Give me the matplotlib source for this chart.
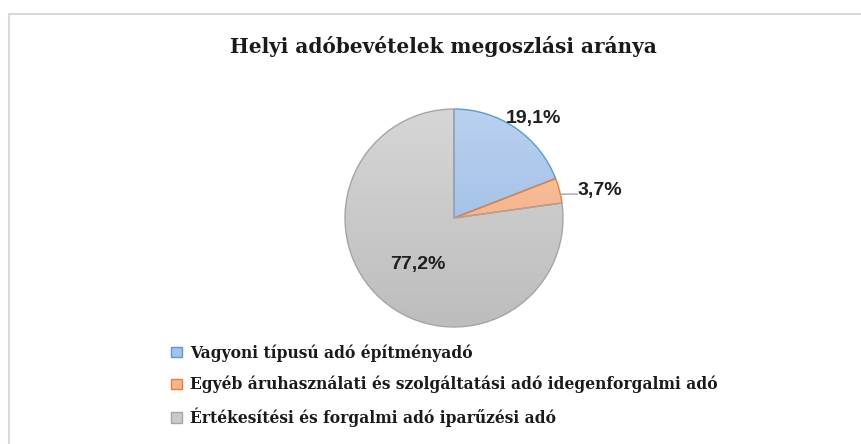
import matplotlib
matplotlib.use("Agg")
import matplotlib.pyplot as plt
import numpy as np
from matplotlib.colors import LinearSegmentedColormap, to_rgb
from matplotlib.lines import Line2D

W, H = 861, 444

title = "Helyi adóbevételek megoszlási aránya"
categories = [
    "Vagyoni típusú adó építményadó",
    "Egyéb áruhasználati és szolgáltatási adó idegenforgalmi adó",
    "Értékesítési és forgalmi adó iparűzési adó",
]
shares = [19.1, 3.7, 77.2]
pct_labels = ["19,1%", "3,7%", "77,2%"]

# (top colour, bottom colour, edge colour) per slice
fills = [
    ("#bad1ef", "#8fb4e3", "#5b9bd5"),
    ("#f9c8a8", "#f1a377", "#ed7d31"),
    ("#d6d6d6", "#bdbdbd", "#a5a5a5"),
]
# label placement in radius units + small angle shift (deg)
label_r = [1.17, 1.36, 0.54]
label_shift = [-4, -4, 3]

serif = {"family": "DejaVu Serif", "weight": "bold"}
sans = {"family": "Liberation Sans", "weight": "bold"}

fig = plt.figure(figsize=(W / 100, H / 100), dpi=100)

# pie axes, centre (454, 218) px, radius 109 px
cx, cy, r = 454, 218, 109
ax = fig.add_axes([(cx - r) / W, (H - cy - r) / H, 2 * r / W, 2 * r / H])

wedges, _ = ax.pie(
    shares,
    startangle=90,
    counterclock=False,
    radius=1,
    colors=[c[0] for c in fills],
    wedgeprops=dict(linewidth=1),
)

grad = np.linspace(1, 0, 256).reshape(-1, 1)
for w, (top, bot, edge) in zip(wedges, fills):
    w.set_edgecolor(edge)
    w.set_facecolor("none")
    cmap = LinearSegmentedColormap.from_list("g", [bot, top])
    im = ax.imshow(grad, cmap=cmap, extent=[-1, 1, -1, 1], origin="upper",
                   aspect="auto", zorder=w.get_zorder() - 0.1, vmin=0, vmax=1)
    im.set_clip_path(w)
ax.set_xlim(-1, 1)
ax.set_ylim(-1, 1)
ax.set_aspect("equal")
ax.axis("off")

for i, w in enumerate(wedges):
    mid = np.deg2rad((w.theta1 + w.theta2) / 2 + label_shift[i])
    x, y = label_r[i] * np.cos(mid), label_r[i] * np.sin(mid)
    ax.text(x, y, pct_labels[i], ha="center", va="center", fontsize=14,
            color="#1f1f1f", clip_on=False, **sans)

# leader line for the small slice
w = wedges[1]
a = np.deg2rad((w.theta1 + w.theta2) / 2 - 2)
ax.plot([np.cos(a), 1.1 * np.cos(a), 1.16 * np.cos(a)],
        [np.sin(a), 1.1 * np.sin(a) - 0.02, 1.1 * np.sin(a) - 0.02],
        color="#a6a6a6", lw=1, clip_on=False)

fig.text(443 / W, 1 - 46 / H, title, ha="center", va="center", fontsize=14.4,
         color="#1a1a1a", **serif)

# legend handles take the mid tone of each gradient
handles = []
for top, bot, edge in fills:
    mid_c = (np.array(to_rgb(top)) + np.array(to_rgb(bot))) / 2
    handles.append(plt.Rectangle((0, 0), 1, 1, facecolor=mid_c,
                                 edgecolor=edge, lw=1))
fig.legend(handles, categories, loc="upper left",
           bbox_to_anchor=(171 / W, 1 - 344 / H), frameon=False,
           prop=dict(size=11.2, **serif), handlelength=0.68, handleheight=0.68,
           handletextpad=0.55, labelspacing=0.92, borderpad=0, borderaxespad=0,
           labelcolor="#1a1a1a")

# chart frame (only top and left edges are visible in the crop)
fig.add_artist(Line2D([9 / W, 1], [1 - 14 / H, 1 - 14 / H],
                      transform=fig.transFigure, color="#d9d9d9", lw=1.5))
fig.add_artist(Line2D([9 / W, 9 / W], [0, 1 - 14 / H],
                      transform=fig.transFigure, color="#d9d9d9", lw=1.5))

fig.savefig("out.png", dpi=100)
